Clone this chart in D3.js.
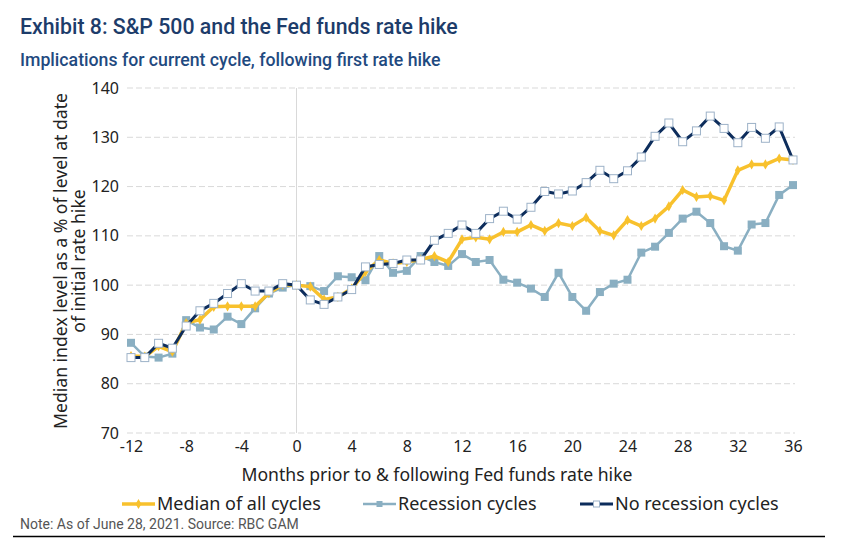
<!DOCTYPE html>
<html>
<head>
<meta charset="utf-8">
<script src="https://cdn.jsdelivr.net/npm/d3@7"></script>
<style>
  body { margin: 0; background: #fff; }
  svg { display: block; }
  .tick text { font-family: "Noto Sans", sans-serif; font-size: 16px; fill: #222; }
</style>
</head>
<body>
<div id="svg"></div>
<script>
var months = d3.range(-12, 37);
var yTicks = [70, 80, 90, 100, 110, 120, 130, 140];
var xTicks = [-12, -8, -4, 0, 4, 8, 12, 16, 20, 24, 28, 32, 36];

var median = [85.6, 85.5, 87.6, 86.5, 92.3, 93.0, 95.6, 95.7, 95.7, 95.7, 98.4, 100.1,
  100, 99.7, 97.1, 97.6, 99.3, 102.7, 105.1, 104.4, 104.7, 105.2, 105.9, 104.7,
  109.3, 109.7, 109.3, 110.8, 110.8, 112.2, 111.0, 112.6, 112.0, 113.7, 111.0, 110.1,
  113.2, 112.0, 113.5, 116.0, 119.3, 117.9, 118.1, 117.2, 123.3, 124.5, 124.5, 125.7, 125.4];
var recession = [88.3, 85.5, 85.3, 86.1, 92.9, 91.4, 91.0, 93.6, 92.1, 95.3, 98.3, 99.5,
  100, 99.8, 98.8, 101.8, 101.6, 101.0, 105.9, 102.5, 102.9, 105.9, 104.7, 103.9,
  106.3, 104.7, 105.1, 101.1, 100.5, 99.3, 97.6, 102.5, 97.6, 94.8, 98.6, 100.3,
  101.1, 106.6, 107.8, 110.6, 113.5, 114.9, 112.6, 107.9, 107.0, 112.3, 112.6, 118.3, 120.3];
var noRecession = [85.3, 85.3, 88.2, 87.2, 91.7, 94.8, 96.3, 98.3, 100.3, 98.8, 98.8, 100.3,
  100, 97.0, 96.1, 97.6, 99.1, 103.7, 104.2, 104.4, 105.1, 105.1, 109.1, 110.5,
  112.2, 110.5, 113.5, 115.0, 113.4, 115.8, 119.0, 118.5, 119.1, 120.8, 123.3, 121.6,
  123.2, 126.0, 130.2, 132.9, 129.1, 131.3, 134.3, 131.8, 128.9, 132.0, 129.8, 132.1, 125.4];

var seriesNames = ["Median of all cycles", "Recession cycles", "No recession cycles"];

var W = 858, H = 543;
var margin = {top: 88, left: 131};
var width = 793 - margin.left, height = 433 - margin.top;

var svg = d3.select("#svg").append("svg").attr("width", W).attr("height", H);

// titles
svg.append("text").attr("x", 20).attr("y", 34)
  .style("font-family", "Roboto, sans-serif").style("font-size", "21.3px").style("font-weight", 500)
  .attr("fill", "#1d3c6a").text("Exhibit 8: S&P 500 and the Fed funds rate hike");
svg.append("text").attr("x", 20).attr("y", 66)
  .style("font-family", "Roboto, sans-serif").style("font-size", "17.7px").style("font-weight", 500)
  .attr("fill", "#1f4a80").text("Implications for current cycle, following first rate hike");

var x = d3.scaleLinear().domain([-12, 36]).range([0, width]);
var y = d3.scaleLinear().domain([70, 140]).range([height, 0]);

var g = svg.append("g").attr("transform", "translate(" + margin.left + "," + margin.top + ")");

// grid
g.selectAll(".grid").data(yTicks).enter().append("line")
  .attr("x1", -4).attr("x2", width + 2)
  .attr("y1", d => y(d)).attr("y2", d => y(d))
  .attr("stroke", "#d9d9d9").attr("stroke-width", 1).attr("stroke-dasharray", "6,3");
g.append("line").attr("x1", x(0)).attr("x2", x(0)).attr("y1", 0).attr("y2", height)
  .attr("stroke", "#d9d9d9").attr("stroke-width", 1);

// axes
var yAxis = d3.axisLeft(y).tickValues(yTicks).tickSize(0).tickPadding(12);
var xAxis = d3.axisBottom(x).tickValues(xTicks).tickSize(0).tickPadding(8)
  .tickFormat(d => String(d));
g.append("g").attr("class", "yaxis").call(yAxis).call(s => s.select(".domain").remove());
g.append("g").attr("class", "xaxis").attr("transform", "translate(0," + height + ")")
  .call(xAxis).call(s => s.select(".domain").remove());

// axis titles
svg.append("text").attr("x", 437).attr("y", 481).attr("text-anchor", "middle")
  .style("font-family", "Noto Sans, sans-serif").style("font-size", "17.6px").attr("fill", "#222")
  .text("Months prior to & following Fed funds rate hike");
var yl = svg.append("text").attr("transform", "translate(67,261) rotate(-90)")
  .attr("text-anchor", "middle")
  .style("font-family", "Noto Sans, sans-serif").style("font-size", "17.6px").attr("fill", "#222");
yl.append("tspan").attr("x", 0).attr("dy", 0).text("Median index level as a % of level at date");
yl.append("tspan").attr("x", 0).attr("dy", 18).text("of initial rate hike");

// lines
var line = d3.line().x((d, i) => x(months[i])).y(d => y(d));

g.append("path").attr("d", line(recession)).attr("fill", "none")
  .attr("stroke", "#8aafc2").attr("stroke-width", 2.5);
g.selectAll(".rec").data(recession).enter().append("rect")
  .attr("x", (d, i) => x(months[i]) - 4).attr("y", d => y(d) - 4)
  .attr("width", 8).attr("height", 8).attr("fill", "#8aafc2");

g.append("path").attr("d", line(median)).attr("fill", "none")
  .attr("stroke", "#f8c12d").attr("stroke-width", 3.5);
g.selectAll(".med").data(median).enter().append("path")
  .attr("d", d3.symbol().type(d3.symbolDiamond).size(30))
  .attr("transform", (d, i) => "translate(" + x(months[i]) + "," + y(d) + ")")
  .attr("fill", "#f8c12d");

g.append("path").attr("d", line(noRecession)).attr("fill", "none")
  .attr("stroke", "#0d2d5c").attr("stroke-width", 3);
g.selectAll(".norec").data(noRecession).enter().append("rect")
  .attr("x", (d, i) => x(months[i]) - 4).attr("y", d => y(d) - 4)
  .attr("width", 8).attr("height", 8).attr("fill", "#fff")
  .attr("stroke", "#9db2c8").attr("stroke-width", 1);

// legend
var legend = [
  {x: 122, color: "#f8c12d", w: 3.5, mark: "diamond"},
  {x: 363, color: "#8aafc2", w: 2.5, mark: "square"},
  {x: 580, color: "#0d2d5c", w: 3, mark: "open"}
];
var lg = svg.append("g");
legend.forEach(function(l, i) {
  var ly = 504, lw = 33;
  lg.append("line").attr("x1", l.x).attr("x2", l.x + lw).attr("y1", ly).attr("y2", ly)
    .attr("stroke", l.color).attr("stroke-width", l.w);
  if (l.mark === "diamond") {
    lg.append("path").attr("d", d3.symbol().type(d3.symbolDiamond).size(30))
      .attr("transform", "translate(" + (l.x + lw / 2) + "," + ly + ")").attr("fill", l.color);
  } else if (l.mark === "square") {
    lg.append("rect").attr("x", l.x + lw / 2 - 3).attr("y", ly - 3).attr("width", 6).attr("height", 6).attr("fill", l.color);
  } else {
    lg.append("rect").attr("x", l.x + lw / 2 - 3).attr("y", ly - 3).attr("width", 6).attr("height", 6)
      .attr("fill", "#fff").attr("stroke", "#9db2c8");
  }
  lg.append("text").attr("x", l.x + lw + 2).attr("y", ly + 6)
    .style("font-family", "Noto Sans, sans-serif").style("font-size", "18px").attr("fill", "#222")
    .text(seriesNames[i]);
});

// note
svg.append("text").attr("x", 20).attr("y", 529)
  .style("font-family", "Roboto, sans-serif").style("font-size", "14px").attr("fill", "#555")
  .text("Note: As of June 28, 2021. Source: RBC GAM");
svg.append("line").attr("x1", 13).attr("x2", 825).attr("y1", 536.5).attr("y2", 536.5)
  .attr("stroke", "#000").attr("stroke-width", 1.5);
</script>
</body>
</html>
